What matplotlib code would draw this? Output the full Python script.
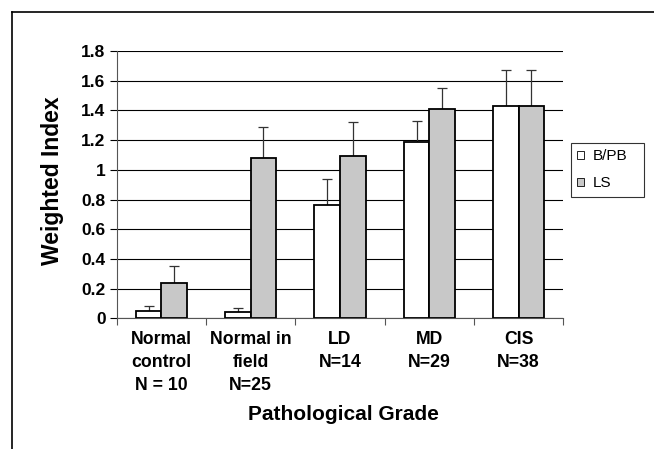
import numpy as np
import matplotlib.pyplot as plt
from matplotlib.lines import Line2D
from matplotlib.patches import Patch

plt.rcParams['font.family'] = ['Liberation Sans', 'DejaVu Sans']

categories = ['Normal\ncontrol\nN = 10', 'Normal in\nfield\nN=25', 'LD\nN=14', 'MD\nN=29', 'CIS\nN=38']
bpb = [0.05, 0.04, 0.76, 1.19, 1.43]
bpb_err = [0.03, 0.03, 0.18, 0.14, 0.24]
ls = [0.24, 1.08, 1.09, 1.41, 1.43]
ls_err = [0.11, 0.21, 0.23, 0.14, 0.24]
yticks = [0, 0.2, 0.4, 0.6, 0.8, 1, 1.2, 1.4, 1.6, 1.8]
ytick_labels = ['0', '0.2', '0.4', '0.6', '0.8', '1', '1.2', '1.4', '1.6', '1.8']

W, H = 654, 449
fig = plt.figure(figsize=(W/100, H/100), dpi=100)
ax = fig.add_axes([116.7/W, 1 - 318.3/H, 446.6/W, 267.3/H])

x = np.arange(len(categories))
w = 0.286
gray = '#C8C8C8'

ax.set_axisbelow(True)
ax.yaxis.grid(True, color='black', linewidth=0.8)

ax.bar(x - w/2, bpb, w, color='white', edgecolor='black', linewidth=1.3, zorder=3)
ax.bar(x + w/2, ls, w, color=gray, edgecolor='black', linewidth=1.3, zorder=3)
ax.errorbar(x - w/2, bpb, yerr=[np.zeros(5), bpb_err], fmt='none', ecolor='#333333',
            elinewidth=0.9, capsize=3.5, capthick=0.9, zorder=2)
ax.errorbar(x + w/2, ls, yerr=[np.zeros(5), ls_err], fmt='none', ecolor='#333333',
            elinewidth=0.9, capsize=3.5, capthick=0.9, zorder=2)

ax.set_xlim(-0.5, len(categories) - 0.5)
ax.set_ylim(0, 1.8)
ax.set_yticks(yticks)
ax.set_yticklabels(ytick_labels, fontsize=12.5, fontweight='bold')
ax.set_xticks(np.arange(len(categories) + 1) - 0.5)
ax.set_xticklabels([])
ax.set_xticks(x, minor=True)
ax.set_xticklabels(categories, minor=True, fontsize=12.7, fontweight='bold', linespacing=1.45)
ax.tick_params(axis='x', which='minor', length=0, pad=9.5)
ax.tick_params(axis='x', which='major', length=5, width=0.8, color='#555555')
ax.tick_params(axis='y', length=5, width=0.8, pad=3)

for s in ['top', 'right']:
    ax.spines[s].set_visible(False)
ax.spines['left'].set_color('#555555')
ax.spines['bottom'].set_color('#555555')

fig.text(53/W, 1 - 181/H, 'Weighted Index', rotation=90, ha='center', va='center',
         fontsize=16.5, fontweight='bold')
fig.text(343/W, 1 - 414/H, 'Pathological Grade', ha='center', va='center',
         fontsize=15, fontweight='bold')

handles = [Patch(facecolor='white', edgecolor='black', linewidth=0.6),
           Patch(facecolor=gray, edgecolor='black', linewidth=0.6)]
leg = fig.legend(handles, ['B/PB', 'LS'], loc='upper left', mode='expand',
                 bbox_to_anchor=(570.7/W, 1 - 196.7/H, 73.3/W, 54/H),
                 fontsize=11, frameon=True, fancybox=False, edgecolor='black', handlelength=0.42,
                 handleheight=0.42, handletextpad=0.6, borderpad=0.42, labelspacing=0.85,
                 borderaxespad=0)
leg.get_frame().set_linewidth(0.8)

# outer frame (top and left only visible)
fig.add_artist(Line2D([12/W, 12/W], [0, 1 - 12/H], color='black', linewidth=1.2))
fig.add_artist(Line2D([12/W, 1], [1 - 12/H, 1 - 12/H], color='black', linewidth=1.2))

fig.savefig('out.png', dpi=100)
